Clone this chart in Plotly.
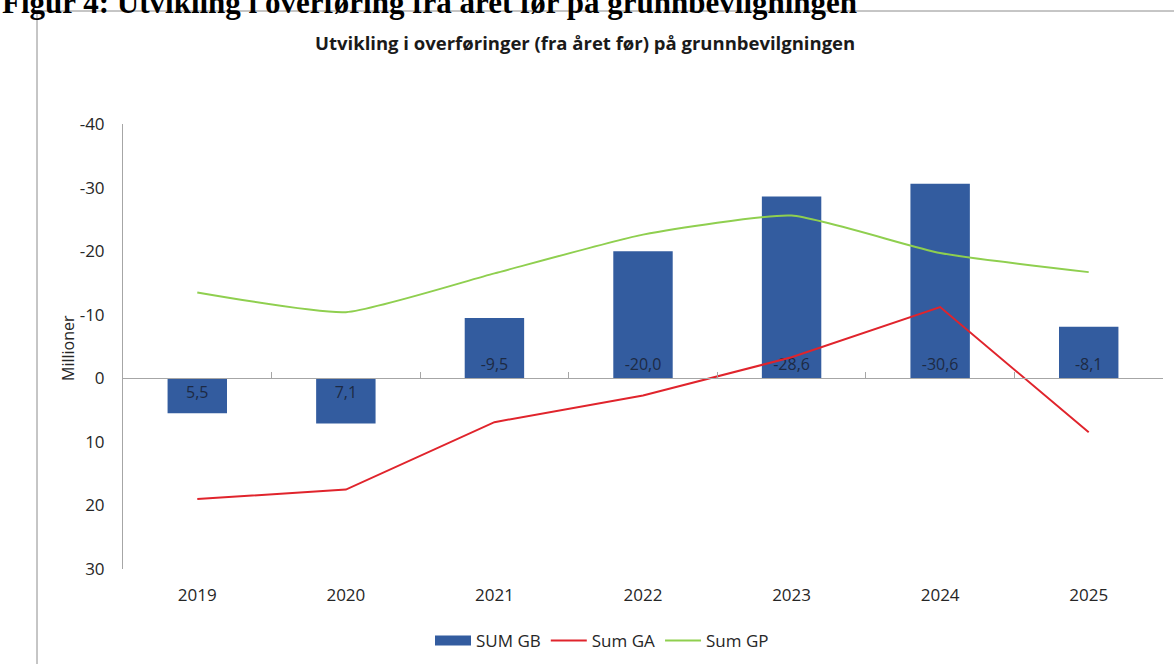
import plotly.graph_objects as go

years = ["2019", "2020", "2021", "2022", "2023", "2024", "2025"]
sum_gb = [5.5, 7.1, -9.5, -20.0, -28.6, -30.6, -8.1]
sum_ga = [19.0, 17.5, 6.9, 2.7, -3.3, -11.2, 8.5]
sum_gp = [-13.5, -10.4, -16.5, -22.6, -25.6, -19.7, -16.7]
y_ticks = [-40, -30, -20, -10, 0, 10, 20, 30]
y_tick_text = ["-40", "-30", "-20", "-10", "0", "10", "20", "30"]

font_main = "Open Sans, Noto Sans, sans-serif"
axis_grey = "#a6a6a6"
text_col = "#262626"
bar_col = "#335c9f"

# plot area in pixels
W, H = 1174, 664
L, R, T, B = 123, 11, 124, 95
pw, ph = W - L - R, H - T - B


def px_x(x):
    return (x - L) / pw


def px_y(y):
    return (H - B - y) / ph


fig = go.Figure()

fig.add_trace(
    go.Bar(
        x=years,
        y=sum_gb,
        name="SUM GB",
        legendgroup="gb",
        showlegend=False,
        marker=dict(color=bar_col, line=dict(width=0)),
        width=0.4,
        texttemplate="%{y:.1f}",
        textposition="inside",
        insidetextanchor="start",
        textangle=0,
        textfont=dict(color="#1d2a44", size=16, family=font_main),
    )
)
# legend proxy so the bar key is drawn as a wide block like in Excel
fig.add_trace(
    go.Scatter(
        x=years,
        y=[None] * len(years),
        name="SUM GB",
        legendgroup="gb",
        mode="lines",
        line=dict(color=bar_col, width=10),
        hoverinfo="skip",
    )
)
fig.add_trace(
    go.Scatter(
        x=years,
        y=sum_ga,
        name="Sum GA",
        mode="lines",
        line=dict(color="#e0242c", width=2),
    )
)
fig.add_trace(
    go.Scatter(
        x=years,
        y=sum_gp,
        name="Sum GP",
        mode="lines",
        line=dict(color="#8fcf4f", width=2, shape="spline", smoothing=0.5),
    )
)
# helper trace so the zero-line category axis is drawn
fig.add_trace(
    go.Scatter(x=years, y=[None] * len(years), xaxis="x2", showlegend=False,
               hoverinfo="skip")
)

y_lo, y_hi = 30, -40
zero_pos = (0 - y_lo) / (y_hi - y_lo)

fig.update_layout(
    width=W,
    height=H,
    margin=dict(l=L, r=R, t=T, b=B, autoexpand=False),
    paper_bgcolor="white",
    plot_bgcolor="white",
    separators=", ",
    font=dict(family=font_main, size=15, color=text_col),
    xaxis=dict(
        type="category",
        automargin=False,
        showline=False,
        showgrid=False,
        zeroline=False,
        ticks="",
        ticklabelstandoff=14,
        tickfont=dict(size=17, color=text_col),
    ),
    xaxis2=dict(
        type="category",
        overlaying="x",
        matches="x",
        anchor="free",
        position=zero_pos,
        side="bottom",
        automargin=False,
        showline=True,
        linecolor=axis_grey,
        linewidth=1,
        ticks="inside",
        ticklen=6,
        tickcolor=axis_grey,
        tickson="boundaries",
        showticklabels=False,
        showgrid=False,
    ),
    yaxis=dict(
        range=[y_lo, y_hi],
        tickvals=y_ticks,
        ticktext=y_tick_text,
        automargin=False,
        showgrid=False,
        zeroline=False,
        showline=True,
        linecolor=axis_grey,
        linewidth=1,
        ticks="",
        ticklabelstandoff=14,
        tickfont=dict(size=17, color=text_col),
    ),
    showlegend=True,
    legend=dict(
        orientation="h",
        x=px_x(602),
        xanchor="center",
        y=px_y(641),
        yanchor="middle",
        font=dict(size=17, color=text_col),
        itemwidth=36,
        traceorder="normal",
    ),
    annotations=[
        dict(
            text="<b>Utvikling i overføringer (fra året før) på grunnbevilgningen</b>",
            xref="paper", yref="paper",
            x=px_x(585), y=px_y(42),
            xanchor="center", yanchor="middle",
            showarrow=False,
            font=dict(size=18.5, color="#1a1a1a", family=font_main),
        ),
        dict(
            text="Millioner",
            xref="paper", yref="paper",
            x=px_x(68), y=px_y(348),
            xanchor="center", yanchor="middle",
            textangle=-90,
            showarrow=False,
            font=dict(size=16, color=text_col, family=font_main),
        ),
        dict(
            text="<b>Figur 4: Utvikling i overføring fra året før på grunnbevilgningen</b>",
            xref="paper", yref="paper",
            x=px_x(0), y=px_y(3),
            xanchor="left", yanchor="middle",
            showarrow=False,
            font=dict(size=31, color="#000000", family="Liberation Serif, serif"),
        ),
    ],
    shapes=[
        dict(
            type="line",
            xref="paper", yref="paper",
            x0=px_x(37), x1=px_x(1180),
            y0=px_y(11), y1=px_y(11),
            line=dict(color="#8c8c8c", width=1),
            layer="above",
        ),
        dict(
            type="line",
            xref="paper", yref="paper",
            x0=px_x(37), x1=px_x(37),
            y0=px_y(11), y1=px_y(680),
            line=dict(color="#8c8c8c", width=1),
            layer="above",
        ),
    ],
)

fig.write_html(
    "out.html",
    config={"displayModeBar": False},
    post_script="document.body.style.margin='0';document.body.style.overflow='hidden';",
)
